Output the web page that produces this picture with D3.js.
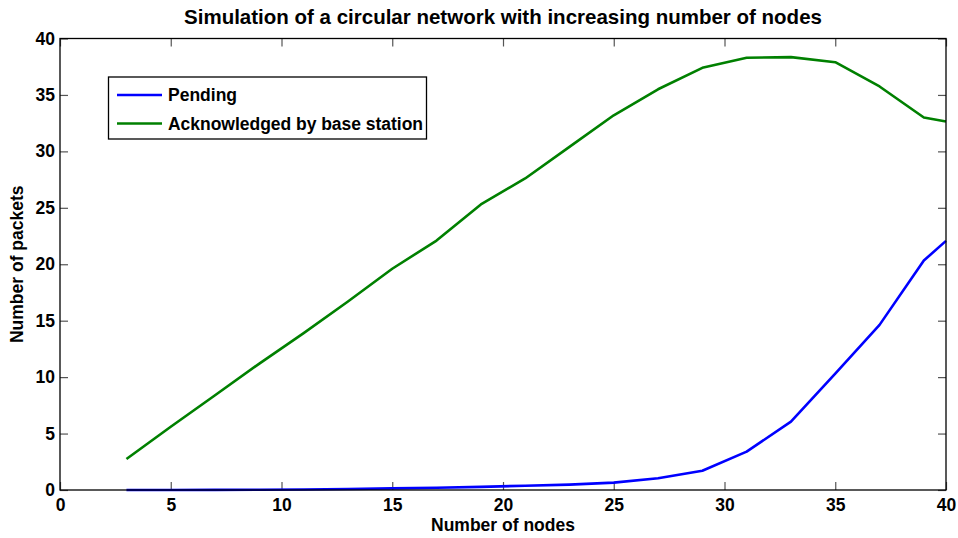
<!DOCTYPE html>
<html>
<head>
<meta charset="utf-8">
<script src="https://cdn.jsdelivr.net/npm/d3@7"></script>
<style>
  html, body { margin: 0; padding: 0; background: #fff; }
  svg { display: block; font-family: "Liberation Sans", Arial, Helvetica, sans-serif; }
</style>
</head>
<body>
<svg id="chart" width="958" height="538"></svg>
<script>
// Network size (number of nodes) at which each run was simulated
const nodes = [3, 5, 7, 9, 11, 13, 15, 17, 19, 21, 23, 25, 27, 29, 31, 33, 35, 37, 39, 40];

// Packets still pending at the end of each run
const pending = [0, 0, 0.01, 0.02, 0.05, 0.09, 0.14, 0.2, 0.28, 0.38, 0.48, 0.65, 1.04, 1.71, 3.4, 6.06, 10.3, 14.63, 20.33, 22.07];

// Packets acknowledged by the base station
const acknowledged = [2.75, 5.6, 8.4, 11.2, 13.9, 16.7, 19.6, 22.1, 25.3, 27.6, 30.4, 33.2, 35.5, 37.4, 38.3, 38.35, 37.9, 35.75, 33.0, 32.65];

const xTicks = [0, 5, 10, 15, 20, 25, 30, 35, 40];
const yTicks = [0, 5, 10, 15, 20, 25, 30, 35, 40];

const seriesNames = ["Pending", "Acknowledged by base station"];
const seriesColors = ["#0000ff", "#008000"];

const svg = d3.select("#chart");
const margin = { left: 60, right: 12, top: 38.5, bottom: 48 };
const W = 958, H = 538;
const x0 = margin.left, x1 = W - margin.right;
const y0 = H - margin.bottom, y1 = margin.top;

const x = d3.scaleLinear().domain([0, 40]).range([x0, x1]);
const y = d3.scaleLinear().domain([0, 40]).range([y0, y1]);

// Title
svg.append("text")
  .attr("x", (x0 + x1) / 2).attr("y", 24)
  .attr("text-anchor", "middle")
  .attr("font-size", 20.5).attr("font-weight", "bold")
  .text("Simulation of a circular network with increasing number of nodes");

// Axes with inward ticks on all four sides
const tickLen = 8;
const bottomAxis = d3.axisBottom(x).tickValues(xTicks).tickSizeInner(-tickLen).tickSizeOuter(0).tickPadding(9);
const topAxis = d3.axisTop(x).tickValues(xTicks).tickSizeInner(-tickLen).tickSizeOuter(0).tickFormat("");
const leftAxis = d3.axisLeft(y).tickValues(yTicks).tickSizeInner(-tickLen).tickSizeOuter(0).tickPadding(5);
const rightAxis = d3.axisRight(y).tickValues(yTicks).tickSizeInner(-tickLen).tickSizeOuter(0).tickFormat("");

function styleAxis(g) {
  g.select(".domain").remove();
  g.selectAll(".tick line").attr("stroke", "#555").attr("stroke-width", 1.2);
  g.selectAll(".tick text")
    .attr("font-size", 17.5).attr("font-weight", "bold")
    .attr("font-family", "Liberation Sans, Arial, sans-serif")
    .attr("fill", "#000");
}

svg.append("g").attr("transform", `translate(0,${y0})`).call(bottomAxis).call(styleAxis);
svg.append("g").attr("transform", `translate(0,${y1})`).call(topAxis).call(styleAxis);
svg.append("g").attr("transform", `translate(${x0},0)`).call(leftAxis).call(styleAxis);
svg.append("g").attr("transform", `translate(${x1},0)`).call(rightAxis).call(styleAxis);

// Data lines
const line = d3.line().x((d, i) => x(nodes[i])).y(d => y(d));
[pending, acknowledged].forEach((vals, k) => {
  svg.append("path")
    .datum(vals)
    .attr("d", line)
    .attr("fill", "none")
    .attr("stroke", seriesColors[k])
    .attr("stroke-width", 2.6)
    .attr("stroke-linejoin", "round");
});

// Plot frame
svg.append("rect")
  .attr("x", x0).attr("y", y1)
  .attr("width", x1 - x0).attr("height", y0 - y1)
  .attr("fill", "none").attr("stroke", "#000").attr("stroke-width", 1.3);

// Axis labels
svg.append("text")
  .attr("x", (x0 + x1) / 2).attr("y", 531)
  .attr("text-anchor", "middle")
  .attr("font-size", 17.5).attr("font-weight", "bold")
  .text("Number of nodes");

svg.append("text")
  .attr("transform", `translate(23,${(y0 + y1) / 2}) rotate(-90)`)
  .attr("text-anchor", "middle")
  .attr("font-size", 17.5).attr("font-weight", "bold")
  .text("Number of packets");

// Legend
const legend = svg.append("g");
legend.append("rect")
  .attr("x", 108.5).attr("y", 77)
  .attr("width", 318).attr("height", 62)
  .attr("fill", "#fff").attr("stroke", "#000").attr("stroke-width", 1.3);
seriesNames.forEach((name, k) => {
  const ly = 95 + k * 28.5;
  legend.append("line")
    .attr("x1", 117).attr("x2", 162)
    .attr("y1", ly).attr("y2", ly)
    .attr("stroke", seriesColors[k]).attr("stroke-width", 2.6);
  legend.append("text")
    .attr("x", 168).attr("y", ly + 6)
    .attr("font-size", 17.5).attr("font-weight", "bold")
    .attr("textLength", k === 0 ? null : 255)
    .text(name);
});
</script>
</body>
</html>
